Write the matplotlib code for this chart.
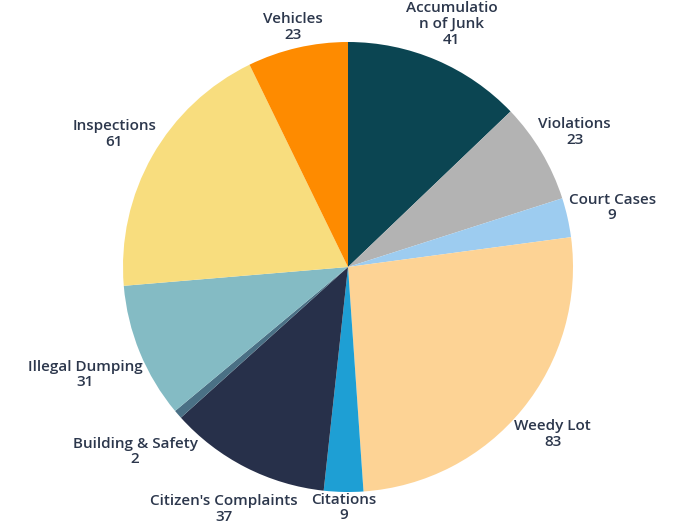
import numpy as np
import matplotlib
matplotlib.use("Agg")
import matplotlib.pyplot as plt

categories = ["Accumulatio\nn of Junk", "Violations", "Court Cases", "Weedy Lot", "Citations",
              "Citizen's Complaints", "Building & Safety", "Illegal Dumping", "Inspections", "Vehicles"]
values = [41, 23, 9, 83, 9, 37, 2, 31, 61, 23]
colors = ["#0b4552", "#b3b3b3", "#9dccf0", "#fdd395", "#1e9fd4",
          "#27304a", "#4a7085", "#84bbc4", "#f8dd7e", "#fe8b00"]

W, H = 678, 531
fig = plt.figure(figsize=(W / 100, H / 100), dpi=100)
cx, cy, R = 348, 267, 225
ax = fig.add_axes([(cx - R) / W, (H - cy - R) / H, 2 * R / W, 2 * R / H])

wedges, _ = ax.pie(values, colors=colors, startangle=90, counterclock=False,
                   radius=1, wedgeprops=dict(linewidth=0))
ax.set_xlim(-1, 1)
ax.set_ylim(-1, 1)
ax.axis("off")

txtcolor = "#2c374c"
fig.canvas.draw()
renderer = fig.canvas.get_renderer()
base = 1.0
for w, cat, val in zip(wedges, categories, values):
    ang = np.deg2rad((w.theta1 + w.theta2) / 2)
    d = np.array([np.cos(ang), np.sin(ang)])
    t = ax.text(0, 0, f"{cat}\n{val}", ha="center", va="center", fontsize=11,
                family="Open Sans", weight="semibold", color=txtcolor,
                linespacing=1.15, clip_on=False)
    bb = t.get_window_extent(renderer)
    hw = bb.width / 2 / R
    hh = bb.height / 2 / R
    ext = hw * abs(d[0]) + hh * abs(d[1])
    r = base + ext
    t.set_position((r * d[0], r * d[1]))

fig.savefig("out.png", dpi=100)
